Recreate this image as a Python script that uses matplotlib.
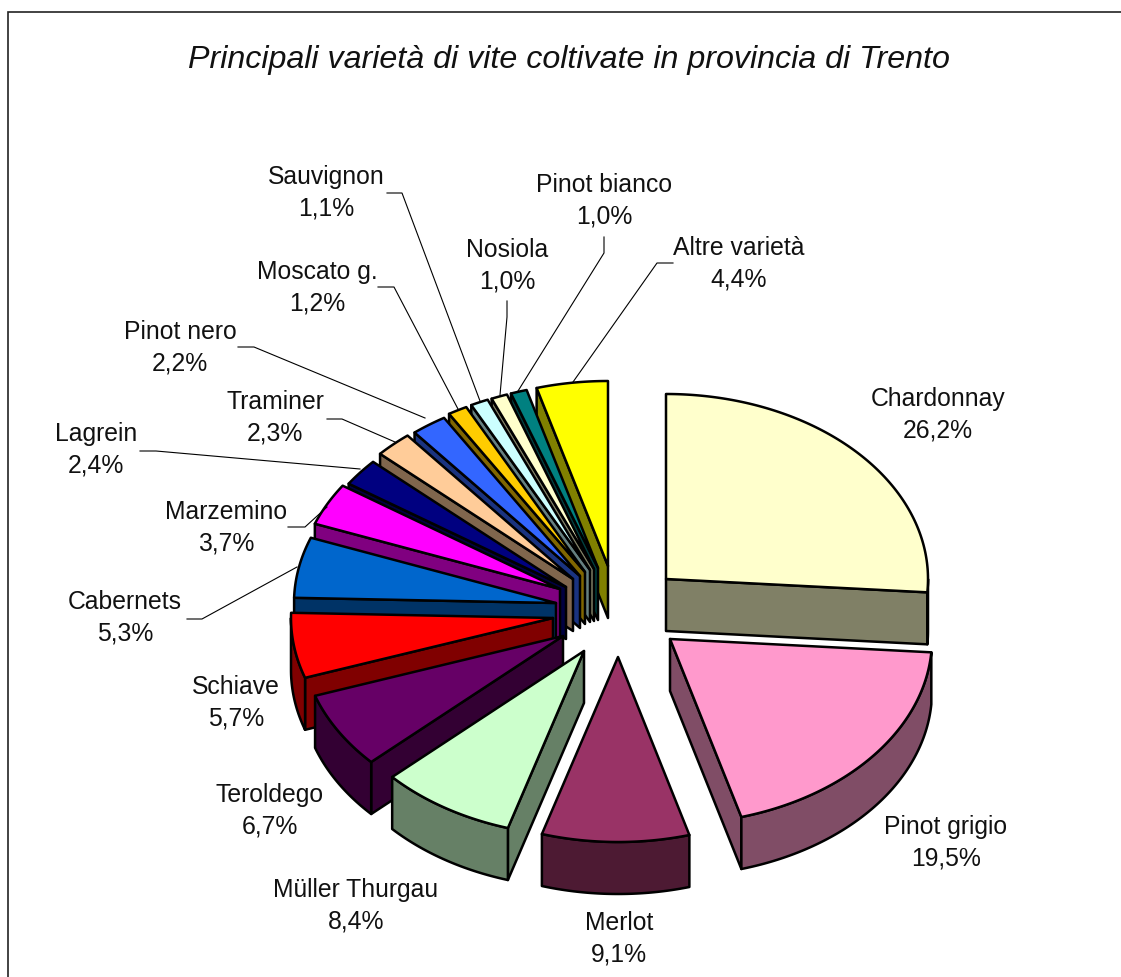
import numpy as np
import matplotlib
matplotlib.use("Agg")
import matplotlib.pyplot as plt
from matplotlib.patches import Polygon

title = "Principali varietà di vite coltivate in provincia di Trento"
varieties = ["Chardonnay", "Pinot grigio", "Merlot", "Müller Thurgau", "Teroldego",
             "Schiave", "Cabernets", "Marzemino", "Lagrein", "Traminer", "Pinot nero",
             "Moscato g.", "Sauvignon", "Nosiola", "Pinot bianco", "Altre varietà"]
shares = [26.2, 19.5, 9.1, 8.4, 6.7, 5.7, 5.3, 3.7, 2.4, 2.3, 2.2, 1.2, 1.1, 1.0, 1.0, 4.4]

face_colors = ["#FFFFCC", "#FF99CC", "#993366", "#CCFFCC", "#660066", "#FF0000", "#0066CC",
               "#FF00FF", "#000080", "#FFCC99", "#3366FF", "#FFCC00", "#CCFFFF", "#FFFFCC",
               "#008080", "#FFFF00"]

# slice apex of each wedge's top face (exploded layout)
apex_x = [666, 670, 618, 584, 563, 553, 556, 560, 566, 573, 580, 585, 590, 594, 598, 608]
apex_y = [580, 640, 658, 652, 637, 619, 604, 590, 588, 580, 577, 573, 571, 570, 569, 567]
label_x = [938, 946, 619, 356, 270, 236, 125, 226, 96, 275, 180, 317, 326, 507, 604, 739]
label_y = [415, 843, 939, 906, 811, 703, 618, 528, 450, 418, 348, 288, 193, 266, 201, 264]
leaders = {
    "Altre varietà": ([673, 657, 573], [264, 264, 383]),
    "Pinot bianco": ([604, 604, 518], [238, 254, 392]),
    "Nosiola": ([507, 507, 500], [302, 318, 396]),
    "Sauvignon": ([387, 402, 480], [194, 194, 402]),
    "Moscato g.": ([378, 394, 458], [288, 288, 410]),
    "Pinot nero": ([238, 254, 425], [348, 348, 419]),
    "Traminer": ([327, 342, 395], [420, 420, 443]),
    "Lagrein": ([140, 156, 360], [452, 452, 470]),
    "Marzemino": ([288, 305, 327], [528, 528, 508]),
    "Cabernets": ([187, 202, 297], [620, 620, 568]),
}

RX, RY, DEPTH = 262.0, 185.0, 52.0
LW = 1.8

plt.rcParams["font.family"] = ["Liberation Sans", "DejaVu Sans"]
fig = plt.figure(figsize=(11.21, 9.78), dpi=100)
ax = fig.add_axes([0, 0, 1, 1])
ax.set_xlim(0, 1121)
ax.set_ylim(978, 0)
ax.axis("off")


def darker(color):
    return tuple(c * 0.5 for c in matplotlib.colors.to_rgb(color))


def arc(cx, cy, a0, a1):
    t = np.radians(np.linspace(a0, a1, max(2, int(abs(a1 - a0) * 1.5) + 2)))
    return np.column_stack([cx + RX * np.sin(t), cy - RY * np.cos(t)])


def poly(points, color):
    ax.add_patch(Polygon(points, closed=True, facecolor=color, edgecolor="black",
                         linewidth=LW, joinstyle="round"))


total = sum(shares)
ends = np.cumsum(shares) / total * 360
starts = np.concatenate([[0], ends[:-1]])
drawn_first_to_last = [0, 1] + list(range(15, 1, -1))

for i in drawn_first_to_last:
    cx, cy, a0, a1 = apex_x[i], apex_y[i], starts[i], ends[i]
    face, wall = face_colors[i], darker(face_colors[i])
    top = arc(cx, cy, a0, a1)
    down = np.array([0, DEPTH])
    apex = np.array([cx, cy], dtype=float)
    # radial walls turned towards the viewer
    if a0 >= 180:
        p = top[0]
        poly([apex, p, p + down, apex + down], wall)
    if a1 <= 180:
        p = top[-1]
        poly([apex, p, p + down, apex + down], wall)
    # outer rim wall on the front half
    lo, hi = max(a0, 90), min(a1, 270)
    if hi > lo:
        rim = arc(cx, cy, lo, hi)
        poly(np.vstack([rim, (rim + down)[::-1]]), wall)
    poly(np.vstack([apex, top]), face)

for name, (xs, ys) in leaders.items():
    ax.plot(xs, ys, color="black", lw=0.8, solid_joinstyle="miter")

for name, value, x, y in zip(varieties, shares, label_x, label_y):
    pct = f"{value:.1f}".replace(".", ",") + "%"
    ax.text(x, y, f"{name}\n{pct}", ha="center", va="center", fontsize=17.8,
            linespacing=1.38, color="#111111")

ax.text(568.5, 60, title, ha="center", va="center", fontsize=23.2, style="italic", color="#111111")

# chart frame, cut by the picture's right and bottom edges
ax.plot([7.5, 7.5, 1121], [978, 12.5, 12.5], color="#222222", lw=1.2, solid_joinstyle="miter")

fig.savefig("out.png", dpi=100)
